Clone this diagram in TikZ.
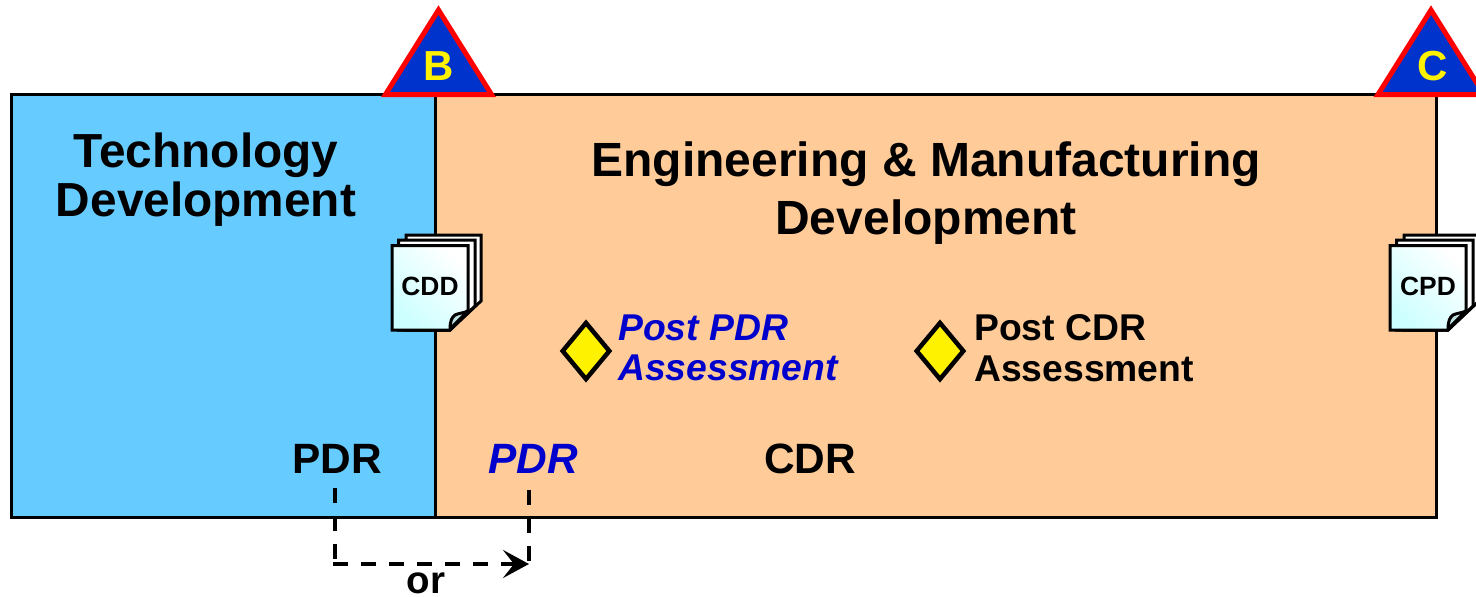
\documentclass[tikz,border=0pt]{standalone}
\usepackage{fontspec}
\setmainfont{Liberation Sans}
\usetikzlibrary{shapes.geometric,arrows.meta}
\definecolor{tdblue}{HTML}{66CCFF}
\definecolor{emdpeach}{HTML}{FFCC99}
\definecolor{tribl}{HTML}{0033CC}
\definecolor{txtbl}{HTML}{0000CC}
\definecolor{foldc}{HTML}{BFE0E0}
\definecolor{pagec}{HTML}{CCFFFF}
\newcommand{\fsz}[1]{\fontsize{#1}{#1}\selectfont\bfseries}
\tikzset{
  x=1pt,y=-1pt,
  phase/.style={draw=black,line width=3pt,line join=miter},
  gate/.style={draw=red,fill=tribl,line width=5pt,line join=miter},
  gatelabel/.style={text=yellow,anchor=base,inner sep=0pt,font=\fsz{42}},
  title/.style={anchor=base,inner sep=0pt,font=\fsz{47.8}},
  label/.style={anchor=base,inner sep=0pt,font=\fsz{42.4}},
  assess/.style={anchor=base west,inner sep=0pt,font=\fsz{37.3}},
  review/.style={diamond,draw=black,fill=yellow,line width=4.5pt,inner sep=0pt,minimum width=48.5pt,minimum height=58pt},
  backpage/.style={draw=black,fill=white,line width=3pt,line join=miter},
  frontpage/.style={draw=black,line width=3pt,line join=miter,left color=white,middle color=white,right color=pagec,shading angle=-45},
  foldpart/.style={draw=black,fill=foldc,line width=3pt,line join=round},
  doclabel/.style={anchor=base,inner sep=0pt,font=\fsz{26.4}},
  flow/.style={draw=black,line width=4pt,dash pattern=on 15pt off 13pt},
  flowtip/.style={-{Stealth[length=26pt,width=28pt,inset=11pt]}}
}
\newcommand{\docstack}[1]{%
  \begin{scope}[shift={(#1,0)}]
    \draw[backpage] (406,235) -- (481,235) -- (481,301) -- (450,330) -- (406,330) -- cycle;
    \draw[backpage] (398.5,240) -- (475,240) -- (475,306) -- (450,330) -- (398.5,330) -- cycle;
    \filldraw[frontpage] (392,245.5) -- (468,245.5) -- (468,310.5) -- (450,330) -- (392,330) -- cycle;
    \filldraw[foldpart] (450,329) .. controls (450,321) and (452,317) .. (455,315) .. controls (459,313) and (464,313) .. (468,311) -- cycle;
  \end{scope}}
\begin{document}
\begin{tikzpicture}
\useasboundingbox (0,0) rectangle (1476,597);
% phases
\fill[white] (0,0) rectangle (1476,597);
\path[phase,fill=tdblue] (11.5,94.5) rectangle (435.5,517);
\path[phase,fill=emdpeach] (435.5,94.5) rectangle (1436,517);
% gates
\path[gate] (438.5,10) -- (491.5,94.5) -- (385.5,94.5) -- cycle;
\path[gate] (1431,10) -- (1484,94.5) -- (1378,94.5) -- cycle;
\node[gatelabel] (gateB) at (438.5,80) {B};
\node[gatelabel] (gateC) at (1433,80) {C};
% titles
\node[title] (td1) at (206,167) {Technology};
\node[title] (td2) at (206,216) {Development};
\node[title,font=\fsz{48}] (emd1) at (926,176) {Engineering \& Manufacturing};
\node[title,font=\fsz{48}] (emd2) at (926,234) {Development};
% documents
\docstack{0}
\docstack{998}
\node[doclabel] (cdd) at (430,295) {CDD};
\node[doclabel] (cpd) at (1428,295) {CPD};
% assessments
\node[review] (d1) at (586,351) {};
\node[review] (d2) at (940,351) {};
\node[assess,text=txtbl,font=\fsz{37.3}\itshape] (a1) at (618,340) {Post PDR};
\node[assess,text=txtbl,font=\fsz{37.3}\itshape] (a2) at (618,380) {Assessment};
\node[assess] (a3) at (974,340) {Post CDR};
\node[assess] (a4) at (974,381) {Assessment};
% reviews
\node[label] (pdrA) at (337,473) {PDR};
\node[label,text=txtbl,font=\fsz{42.4}\itshape] (pdrB) at (533,473) {PDR};
\node[label] (cdr) at (810,473) {CDR};
% flow
\coordinate (s1) at (335,488);
\coordinate (s2) at (529,490);
\coordinate (e1) at (335,562);
\coordinate (e2) at (529,564);
\coordinate (h1) at (333,564);
\path[flow] (s2) -- (e2);
\path[flow] (s1) -- (e1);
\path[flow,flowtip] (h1) -- (e2);
\node[anchor=base,inner sep=0pt,font=\fsz{38.5}] (or) at (426,593) {or};
\end{tikzpicture}
\end{document}
